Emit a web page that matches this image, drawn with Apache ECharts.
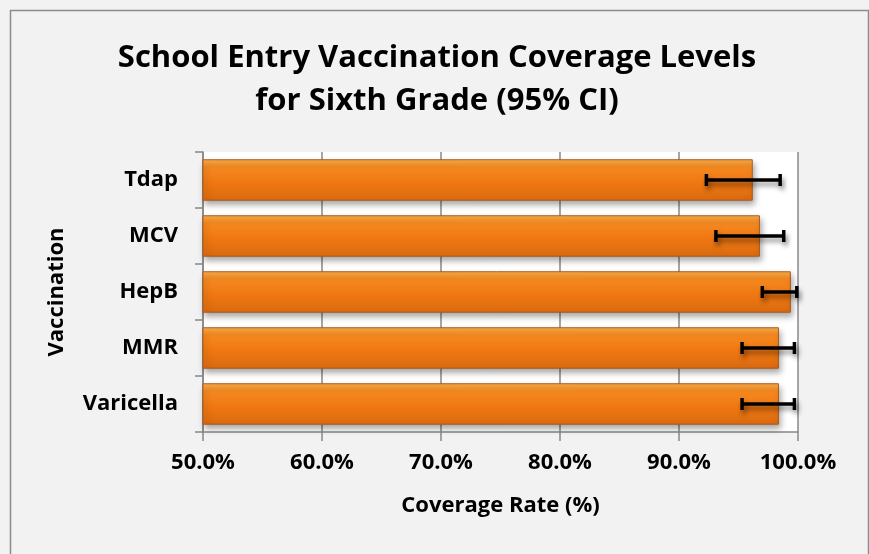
<!DOCTYPE html>
<html><head><meta charset="utf-8">
<script src="https://cdn.jsdelivr.net/npm/echarts@6/dist/echarts.min.js"></script>
<style>html,body{margin:0;padding:0;background:#f2f2f2}#c{width:869px;height:554px}</style>
</head><body><div id="c"></div>
<script>
const categories = ['Varicella', 'MMR', 'HepB', 'MCV', 'Tdap'];
const coverage = [98.4, 98.4, 99.4, 96.8, 96.2];
const ciLow = [95.3, 95.3, 97.0, 93.1, 92.3];
const ciHigh = [99.7, 99.7, 99.9, 98.8, 98.5];
const xTicks = [50, 60, 70, 80, 90, 100];

const FONT = 'Open Sans';
const chart = echarts.init(document.getElementById('c'));
chart.setOption({
  backgroundColor: '#f2f2f2',
  animation: false,
  textStyle: { fontFamily: FONT },
  graphic: [{
    type: 'rect', left: 8, top: 8, shape: { width: 858, height: 545 },
    style: { fill: 'none', stroke: '#8c8c8c', lineWidth: 1.5 }, silent: true, z: -1
  }, {
    type: 'text', x: 437, y: 58,
    style: { text: 'School Entry Vaccination Coverage Levels', fontSize: 31, fontWeight: 'bold', fill: '#000', fontFamily: FONT, align: 'center', verticalAlign: 'middle' }
  }, {
    type: 'text', x: 437, y: 101,
    style: { text: 'for Sixth Grade (95% CI)', fontSize: 31, fontWeight: 'bold', fill: '#000', fontFamily: FONT, align: 'center', verticalAlign: 'middle' }
  }],
  grid: { left: 203, right: 71, top: 152, bottom: 122, show: true, backgroundColor: '#ffffff', borderWidth: 0 },
  xAxis: {
    type: 'value', min: xTicks[0], max: xTicks[xTicks.length - 1], interval: 10,
    name: 'Coverage Rate (%)', nameLocation: 'middle', nameGap: 63,
    nameTextStyle: { fontSize: 22, fontWeight: 'bold', color: '#000', fontFamily: FONT },
    axisLine: { show: true, lineStyle: { color: '#888', width: 1.5 } },
    axisTick: { show: true, length: 9, lineStyle: { color: '#888', width: 1.5 } },
    axisLabel: { formatter: v => v.toFixed(1) + '%', fontSize: 22, fontWeight: 'bold', color: '#000', margin: 20, fontFamily: FONT },
    splitLine: { show: true, lineStyle: { color: '#888', width: 1.5 } }
  },
  yAxis: {
    type: 'category', data: categories,
    name: 'Vaccination', nameLocation: 'middle', nameGap: 135, nameRotate: 90,
    nameTextStyle: { fontSize: 22, fontWeight: 'bold', color: '#000', fontFamily: FONT },
    axisLine: { show: true, lineStyle: { color: '#888', width: 1.5 } },
    axisTick: { show: true, length: 8, lineStyle: { color: '#888', width: 1.5 } },
    axisLabel: { fontSize: 22, fontWeight: 'bold', color: '#000', margin: 25, fontFamily: FONT }
  },
  series: [{
    type: 'bar', data: coverage, barCategoryGap: '26%',
    itemStyle: {
      color: new echarts.graphic.LinearGradient(0, 0, 0, 1, [
        { offset: 0, color: '#fbb04c' }, { offset: 0.18, color: '#f68a22' },
        { offset: 0.55, color: '#f07812' }, { offset: 1, color: '#d96a10' }
      ]),
      borderColor: '#a85a1e', borderWidth: 1,
      shadowColor: 'rgba(0,0,0,0.35)', shadowBlur: 6, shadowOffsetY: 4, shadowOffsetX: 2
    }
  }, {
    type: 'custom', z: 5,
    data: categories.map((c, i) => [i, ciLow[i], ciHigh[i]]),
    encode: { y: 0, x: [1, 2] },
    renderItem: (params, api) => {
      const a = api.coord([api.value(1), api.value(0)]);
      const b = api.coord([api.value(2), api.value(0)]);
      const h = 6;
      const st = { stroke: '#000', lineWidth: 3.5, shadowColor: 'rgba(0,0,0,0.45)', shadowBlur: 5, shadowOffsetY: 4, shadowOffsetX: 2 };
      return { type: 'group', children: [
        { type: 'line', shape: { x1: a[0], y1: a[1], x2: b[0], y2: b[1] }, style: st },
        { type: 'line', shape: { x1: a[0], y1: a[1] - h, x2: a[0], y2: a[1] + h }, style: st },
        { type: 'line', shape: { x1: b[0], y1: b[1] - h, x2: b[0], y2: b[1] + h }, style: st }
      ] };
    }
  }]
});
</script>
</body></html>
